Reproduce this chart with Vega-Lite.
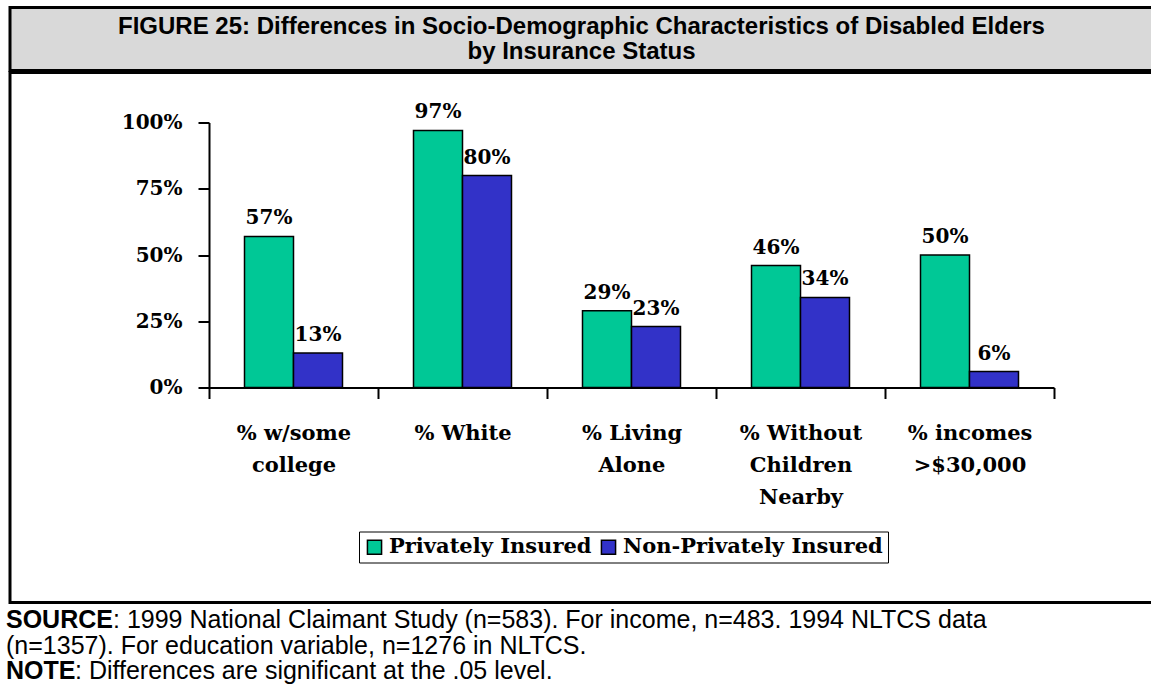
{
  "$schema": "https://vega.github.io/schema/vega-lite/v6.json",
  "background": "white",
  "padding": {"left": 6, "top": 5.5, "right": 0, "bottom": 0},
  "spacing": -3,
  "config": {"view": {"stroke": null}, "concat": {"spacing": -3}},
  "vconcat": [
    {
      "width": 1143,
      "height": 63,
      "view": {"fill": "#d9d9d9", "stroke": "black", "strokeWidth": 3},
      "data": {"values": [{"t": "FIGURE 25: Differences in Socio-Demographic Characteristics of Disabled Elders\nby Insurance Status"}]},
      "mark": {"type": "text", "font": "Liberation Sans", "fontWeight": "bold", "fontSize": 24, "lineHeight": 25, "lineBreak": "\n", "align": "center", "baseline": "middle", "dy": -12.5, "color": "black"},
      "encoding": {"text": {"field": "t", "type": "nominal"}}
    },
    {
      "width": 1143,
      "height": 530,
      "view": {"fill": "white", "stroke": "black", "strokeWidth": 3},
      "data": {"values": [
        {"cat": "% w/some|college", "group": "Privately Insured", "value": 0.57},
        {"cat": "% w/some|college", "group": "Non-Privately Insured", "value": 0.13},
        {"cat": "% White", "group": "Privately Insured", "value": 0.97},
        {"cat": "% White", "group": "Non-Privately Insured", "value": 0.80},
        {"cat": "% Living|Alone", "group": "Privately Insured", "value": 0.29},
        {"cat": "% Living|Alone", "group": "Non-Privately Insured", "value": 0.23},
        {"cat": "% Without|Children|Nearby", "group": "Privately Insured", "value": 0.46},
        {"cat": "% Without|Children|Nearby", "group": "Non-Privately Insured", "value": 0.34},
        {"cat": "% incomes|>$30,000", "group": "Privately Insured", "value": 0.50},
        {"cat": "% incomes|>$30,000", "group": "Non-Privately Insured", "value": 0.06}
      ]},
      "encoding": {
        "x": {
          "field": "cat", "type": "nominal", "sort": null,
          "scale": {"range": [199, 1044], "paddingInner": 0, "paddingOuter": 0},
          "axis": {
            "orient": "bottom", "offset": -215, "title": null, "labelAngle": 0,
            "tickBand": "extent", "labelExpr": "split(datum.label, '|')",
            "labelFont": "DejaVu Serif", "labelFontWeight": "bold", "labelFontSize": 21,
            "labelColor": "black", "labelPadding": 24, "labelLineHeight": 32, "labelBaseline": "top",
            "domainColor": "black", "domainWidth": 2, "tickColor": "black", "tickWidth": 2, "tickSize": 11
          }
        },
        "xOffset": {
          "field": "group", "type": "nominal",
          "sort": ["Privately Insured", "Non-Privately Insured"],
          "scale": {"paddingInner": 0, "paddingOuter": 0.7245}
        },
        "y": {
          "field": "value", "type": "quantitative",
          "scale": {"domain": [0, 1], "range": [315, 50], "nice": false},
          "axis": {
            "orient": "left", "offset": -199, "title": null, "grid": false,
            "values": [0, 0.25, 0.5, 0.75, 1], "format": ".0%",
            "labelFont": "DejaVu Serif", "labelFontWeight": "bold", "labelFontSize": 20,
            "labelColor": "black", "labelPadding": 16,
            "domainColor": "black", "domainWidth": 2, "tickColor": "black", "tickWidth": 2, "tickSize": 11
          }
        }
      },
      "layer": [
        {
          "mark": {"type": "bar", "stroke": "black", "strokeWidth": 1.5},
          "encoding": {
            "color": {
              "field": "group", "type": "nominal",
              "scale": {"domain": ["Privately Insured", "Non-Privately Insured"], "range": ["#00c896", "#3232c8"]},
              "legend": {
                "orient": "none", "legendX": 349, "legendY": 524, "direction": "horizontal",
                "title": null, "symbolType": "square", "symbolSize": 200,
                "symbolStrokeColor": "black", "symbolStrokeWidth": 1.5, "symbolOpacity": 1,
                "labelFont": "DejaVu Serif", "labelFontWeight": "bold", "labelFontSize": 21,
                "labelColor": "black", "labelLimit": 0, "columnPadding": 6, "labelOffset": 4,
                "strokeColor": "black", "fillColor": "white", "padding": 5
              }
            }
          }
        },
        {
          "mark": {"type": "text", "baseline": "alphabetic", "dy": -12, "font": "DejaVu Serif", "fontWeight": "bold", "fontSize": 20, "color": "black"},
          "encoding": {"text": {"field": "value", "type": "quantitative", "format": ".0%"}}
        }
      ]
    },
    {
      "width": 1143,
      "height": 82,
      "encoding": {
        "y": {"field": "line", "type": "ordinal", "axis": null, "scale": {"domain": [1, 2, 3], "padding": 0.577}},
        "x": {"value": -4}
      },
      "layer": [
        {
          "data": {"values": [{"line": 1, "t": "SOURCE"}, {"line": 3, "t": "NOTE"}]},
          "mark": {"type": "text", "align": "left", "baseline": "middle", "font": "Liberation Sans", "fontWeight": "bold", "fontSize": 25, "color": "black"},
          "encoding": {"text": {"field": "t", "type": "nominal"}}
        },
        {
          "data": {"values": [{"line": 1, "t": ":  1999 National Claimant Study (n=583). For income, n=483. 1994 NLTCS data"}]},
          "mark": {"type": "text", "align": "left", "baseline": "middle", "dx": 107, "font": "Liberation Sans", "fontSize": 25, "color": "black"},
          "encoding": {"text": {"field": "t", "type": "nominal"}}
        },
        {
          "data": {"values": [{"line": 2, "t": "(n=1357). For education variable, n=1276 in NLTCS."}]},
          "mark": {"type": "text", "align": "left", "baseline": "middle", "font": "Liberation Sans", "fontSize": 25, "color": "black"},
          "encoding": {"text": {"field": "t", "type": "nominal"}}
        },
        {
          "data": {"values": [{"line": 3, "t": ":  Differences are significant at the .05 level."}]},
          "mark": {"type": "text", "align": "left", "baseline": "middle", "dx": 69, "font": "Liberation Sans", "fontSize": 25, "color": "black"},
          "encoding": {"text": {"field": "t", "type": "nominal"}}
        }
      ]
    }
  ]
}
